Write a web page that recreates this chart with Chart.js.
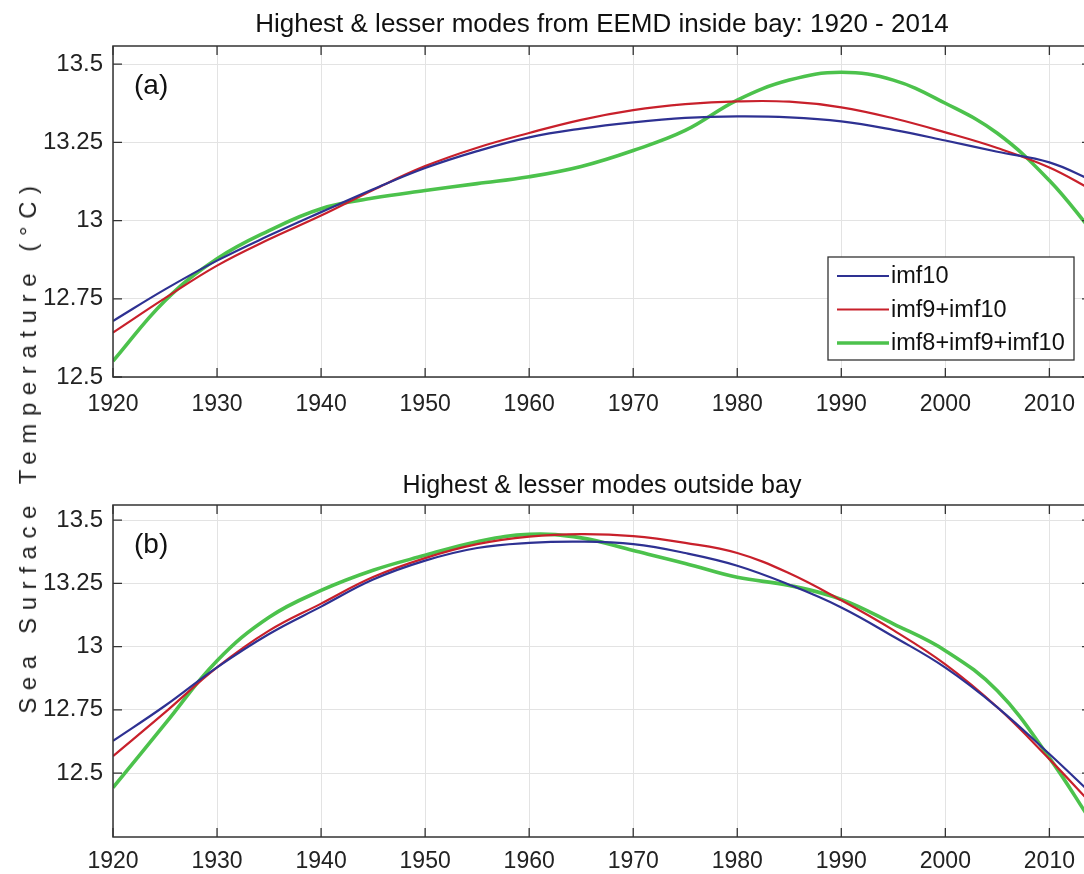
<!DOCTYPE html>
<html>
<head>
<meta charset="utf-8">
<script src="https://cdn.jsdelivr.net/npm/chart.js@4.4.1/dist/chart.umd.min.js"></script>
<style>
  html, body { margin: 0; padding: 0; background: #fff; overflow: hidden; width: 1084px; height: 874px; }
  .panel { position: absolute; left: 0; width: 1092px; }
  #ylab {
    position: absolute; left: 28px; top: 446px;
    transform: translate(-50%, -50%) rotate(-90deg);
    font-family: "Liberation Sans", Arial, sans-serif; font-size: 24px;
    letter-spacing: 7.6px; white-space: nowrap; color: #222;
  }
</style>
</head>
<body>
<div class="panel" style="top:0;height:430px"><canvas id="chartA"></canvas></div>
<div class="panel" style="top:440px;height:434px"><canvas id="chartB"></canvas></div>
<div id="ylab">Sea Surface Temperature (°C)</div>
<script>
// years sampled along the curves
const years = [1920, 1925, 1930, 1935, 1940, 1945, 1950, 1955, 1960, 1965, 1970, 1975, 1980, 1985, 1990, 1995, 2000, 2005, 2010, 2014];

// (a) inside bay
const insideImf10 = [12.679, 12.78, 12.872, 12.952, 13.027, 13.1, 13.168, 13.222, 13.266, 13.294, 13.314, 13.328, 13.333, 13.33, 13.317, 13.29, 13.256, 13.22, 13.186, 13.13];
const insideImf9 = [12.642, 12.752, 12.856, 12.94, 13.016, 13.098, 13.174, 13.233, 13.28, 13.322, 13.353, 13.372, 13.381, 13.38, 13.362, 13.327, 13.282, 13.232, 13.17, 13.10];
const insideImf8 = [12.551, 12.744, 12.878, 12.968, 13.038, 13.072, 13.096, 13.118, 13.14, 13.173, 13.224, 13.288, 13.385, 13.449, 13.474, 13.449, 13.375, 13.279, 13.128, 12.97];

// (b) outside bay
const outsideImf10 = [12.627, 12.766, 12.918, 13.05, 13.158, 13.265, 13.34, 13.39, 13.41, 13.415, 13.405, 13.37, 13.32, 13.245, 13.155, 13.04, 12.917, 12.76, 12.575, 12.42];
const outsideImf9 = [12.567, 12.74, 12.918, 13.063, 13.17, 13.275, 13.35, 13.405, 13.435, 13.445, 13.437, 13.41, 13.37, 13.29, 13.183, 13.065, 12.93, 12.76, 12.555, 12.38];
const outsideImf8 = [12.442, 12.694, 12.944, 13.116, 13.222, 13.302, 13.361, 13.415, 13.444, 13.43, 13.38, 13.329, 13.274, 13.242, 13.187, 13.09, 12.984, 12.825, 12.56, 12.31];

const seriesNames = ['imf10', 'imf9+imf10', 'imf8+imf9+imf10'];
const xTicks = [1920, 1930, 1940, 1950, 1960, 1970, 1980, 1990, 2000, 2010];
const yTicks = [12.5, 12.75, 13, 13.25, 13.5];

const FONT = '"Liberation Sans", Arial, sans-serif';
const colors = ['#2e3192', '#c8202b', '#4cc24c'];
const widths = [2.2, 2.2, 3.6];

function pts(vals) {
    return years.map((y, i) => ({ x: y, y: vals[i] }));
}

// box on top/right plus inward ticks, like the original figure
const framePlugin = {
    id: 'frame',
    afterDraw(chart, args, opts) {
        const { ctx, chartArea: a, scales } = chart;
        ctx.save();
        ctx.strokeStyle = '#333';
        ctx.lineWidth = 1.5;
        ctx.strokeRect(a.left, a.top, a.right - a.left, a.bottom - a.top);
        ctx.lineWidth = 1.3;
        ctx.beginPath();
        xTicks.forEach(v => {
            const px = scales.x.getPixelForValue(v);
            ctx.moveTo(px, a.bottom); ctx.lineTo(px, a.bottom - 9);
            ctx.moveTo(px, a.top); ctx.lineTo(px, a.top + 9);
        });
        yTicks.forEach(v => {
            const py = scales.y.getPixelForValue(v);
            ctx.moveTo(a.left, py); ctx.lineTo(a.left + 9, py);
            ctx.moveTo(a.right, py); ctx.lineTo(a.right - 9, py);
        });
        ctx.stroke();
        ctx.fillStyle = '#111';
        ctx.font = '28px ' + FONT;
        ctx.textBaseline = 'alphabetic';
        ctx.fillText(opts.tag, a.left + 21, a.top + 48);
        ctx.restore();
    }
};

function makeChart(id, data, cfg) {
    return new Chart(document.getElementById(id), {
        type: 'line',
        data: {
            datasets: data.map((vals, i) => ({
                label: seriesNames[i],
                data: pts(vals),
                borderColor: colors[i],
                backgroundColor: colors[i],
                borderWidth: widths[i],
                pointRadius: 0,
                tension: 0.4,
                fill: false
            }))
        },
        options: {
            responsive: true,
            maintainAspectRatio: false,
            animation: false,
            layout: { padding: { left: 0, right: 1, top: 0, bottom: 0 } },
            scales: {
                x: {
                    type: 'linear', min: 1920, max: 2014,
                    afterFit: s => { s.height = cfg.xh; },
                    ticks: {
                        stepSize: 10, includeBounds: false, padding: cfg.xpad,
                        color: '#222', font: { family: FONT, size: 23 },
                        maxRotation: 0, callback: v => String(v)
                    },
                    grid: { color: '#e3e3e3', drawTicks: false },
                    border: { display: false }
                },
                y: {
                    min: cfg.ymin, max: cfg.ymax,
                    afterFit: s => { s.width = 113; },
                    ticks: {
                        stepSize: 0.25, includeBounds: false, padding: 10,
                        color: '#222', font: { family: FONT, size: 24 },
                        callback: v => (v < 12.4 ? null : String(+v.toFixed(2)))
                    },
                    grid: { color: '#e3e3e3', drawTicks: false },
                    border: { display: false }
                }
            },
            plugins: {
                title: {
                    display: true, text: cfg.title, fullSize: false,
                    color: '#111', font: { family: FONT, size: cfg.tsize, weight: 'normal' },
                    padding: cfg.tpad
                },
                legend: { display: false },
                tooltip: { enabled: false },
                frame: { tag: cfg.tag }
            }
        },
        plugins: [framePlugin].concat(cfg.extra || [])
    });
}

// legend drawn inside the plot, lower right
const boxLegend = {
    id: 'boxLegend',
    afterDraw(chart) {
        const { ctx } = chart;
        const x = 828, y = 257, w = 246, h = 103;
        ctx.save();
        ctx.fillStyle = '#fff';
        ctx.fillRect(x, y, w, h);
        ctx.strokeStyle = '#333';
        ctx.lineWidth = 1.3;
        ctx.strokeRect(x, y, w, h);
        ctx.font = '23.5px ' + FONT;
        ctx.textBaseline = 'middle';
        chart.data.datasets.forEach((ds, i) => {
            const yy = y + 19 + i * 33.5;
            ctx.strokeStyle = ds.borderColor;
            ctx.lineWidth = ds.borderWidth;
            ctx.beginPath();
            ctx.moveTo(x + 9, yy); ctx.lineTo(x + 61, yy);
            ctx.stroke();
            ctx.fillStyle = '#111';
            ctx.fillText(ds.label, x + 63, yy + 1);
        });
        ctx.restore();
    }
};

makeChart('chartA', [insideImf10, insideImf9, insideImf8], {
    title: 'Highest & lesser modes from EEMD inside bay: 1920 - 2014',
    tsize: 26, tpad: { top: 9.4, bottom: 5.4 },
    ymin: 12.5, ymax: 13.558, xh: 53, xpad: 14, tag: '(a)', extra: [boxLegend]
});

makeChart('chartB', [outsideImf10, outsideImf9, outsideImf8], {
    title: 'Highest & lesser modes outside bay',
    tsize: 25, tpad: { top: 31, bottom: 4 },
    ymin: 12.247, ymax: 13.56, xh: 37, xpad: 11, tag: '(b)'
});
</script>
</body>
</html>
